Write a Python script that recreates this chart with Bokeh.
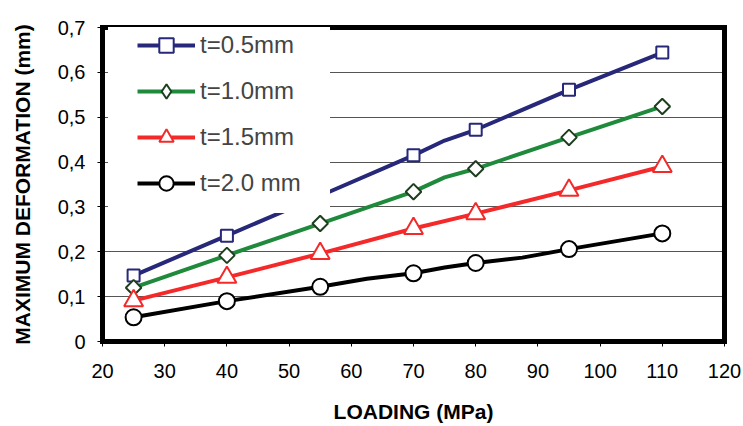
import math
from bokeh.plotting import figure
from bokeh.models import Range1d, FixedTicker, CustomJSTickFormatter, Legend, LegendItem, LinearAxis
from bokeh.embed import file_html
from bokeh.resources import INLINE

# Marker positions (MPa) and measured maximum deformation (mm)
loading = [25, 40, 55, 70, 80, 95, 110]
t05 = [0.147, 0.236, 0.325, 0.415, 0.472, 0.561, 0.644]
t10 = [0.120, 0.192, 0.263, 0.334, 0.385, 0.455, 0.524]
t15 = [0.091, 0.143, 0.196, 0.252, 0.285, 0.337, 0.390]
t20 = [0.054, 0.090, 0.122, 0.152, 0.175, 0.206, 0.241]

# Line paths (contain a few extra unmarked points)
line_x_05 = [25, 40, 55, 70, 75, 80, 95, 110]
line_05 = [0.147, 0.236, 0.325, 0.415, 0.448, 0.472, 0.561, 0.644]
line_x_10 = [25, 40, 55, 70, 75, 80, 95, 110]
line_10 = [0.120, 0.192, 0.263, 0.334, 0.366, 0.385, 0.455, 0.524]
line_x_15 = [25, 40, 55, 70, 80, 95, 110]
line_15 = [0.091, 0.143, 0.196, 0.252, 0.285, 0.337, 0.390]
line_x_20 = [25, 40, 55, 62.5, 70, 75, 80, 87.5, 95, 110]
line_20 = [0.054, 0.090, 0.122, 0.140, 0.152, 0.165, 0.175, 0.187, 0.206, 0.241]

labels = ["t=0.5mm", "t=1.0mm", "t=1.5mm", "t=2.0 mm"]
x_ticks = [20, 30, 40, 50, 60, 70, 80, 90, 100, 110, 120]
y_ticks = [0, 0.1, 0.2, 0.3, 0.4, 0.5, 0.6, 0.7]

NAVY = "#27287A"
GREEN = "#1F8A3C"
DKGREEN = "#1E3F1E"
RED = "#F42A2A"

FONT = "Liberation Sans"

p = figure(width=743, height=426, output_backend="svg", toolbar_location=None,
           x_range=Range1d(20, 120), y_range=Range1d(0, 0.7),
           min_border_left=102, min_border_right=19, min_border_top=27, min_border_bottom=85)

p.background_fill_color = "white"
p.border_fill_color = "white"
p.outline_line_color = None

p.xgrid.grid_line_color = None
p.ygrid.grid_line_color = "#555555"
p.ygrid.grid_line_width = 1

p.xaxis.ticker = FixedTicker(ticks=x_ticks)
p.yaxis.ticker = FixedTicker(ticks=y_ticks)
p.yaxis.formatter = CustomJSTickFormatter(code="""
    if (Math.abs(tick) < 1e-9) { return "0"; }
    return tick.toFixed(1).replace(".", ",");
""")

for ax in (p.xaxis[0], p.yaxis[0]):
    ax.axis_line_color = "black"
    ax.axis_line_width = 5
    ax.axis_line_cap = "square"
    ax.major_tick_out = 5
    ax.major_tick_in = 0
    ax.major_tick_line_color = "black"
    ax.minor_tick_line_color = None
    ax.major_label_text_font = FONT
    ax.major_label_text_font_size = "20px"
    ax.major_label_text_color = "black"
    ax.axis_label_text_font = FONT
    ax.axis_label_text_font_size = "21px"
    ax.axis_label_text_font_style = "bold"
    ax.axis_label_text_color = "black"

p.xaxis.axis_label = "LOADING (MPa)"
p.yaxis.axis_label = "MAXIMUM DEFORMATION (mm)"
p.xaxis.major_label_standoff = 17
p.xaxis.axis_label_standoff = 19
p.yaxis.major_label_standoff = 12
p.yaxis.axis_label_standoff = 21

# thick frame on top and right (as label-less axes so the legend box can cover them)
for side in ("above", "right"):
    frame_axis = LinearAxis(ticker=FixedTicker(ticks=[]), axis_line_color="black", axis_line_width=5,
                            axis_line_cap="square", major_tick_line_color=None,
                            minor_tick_line_color=None, major_label_text_font_size="0px")
    p.add_layout(frame_axis, side)

l1 = p.line(line_x_05, line_05, line_width=4, line_color=NAVY, line_join="round")
s1 = p.scatter(loading, t05, marker="square", size=12, fill_color="white", line_color=NAVY, line_width=2)
l2 = p.line(line_x_10, line_10, line_width=4, line_color=GREEN, line_join="round")
s2 = p.scatter(loading, t10, marker="square", angle=math.pi / 4, size=11, fill_color="white",
               line_color=DKGREEN, line_width=2)
l3 = p.line(line_x_15, line_15, line_width=4, line_color=RED, line_join="round")
s3 = p.scatter(loading, t15, marker="triangle", size=19, fill_color="white", line_color=RED, line_width=2)
l4 = p.line(line_x_20, line_20, line_width=4, line_color="black", line_join="round")
s4 = p.scatter(loading, t20, marker="circle", size=16, fill_color="white", line_color="black", line_width=2)

# legend-only diamond sample (legend draws markers unrotated)
d_key = p.scatter([float("nan")], [float("nan")], marker="diamond", fill_color="white",
                  line_color=DKGREEN, line_width=2)
# invisible renderer for the legend's white backing panel
blank = p.line([float("nan")], [float("nan")], line_alpha=0)

# white backing box of the legend (covers grid, frame top and part of the t=0.5mm line)
backing = Legend(items=[LegendItem(label=" ", renderers=[blank])], location=(6, 128),
                 glyph_width=222, glyph_height=199, label_height=199, label_width=0,
                 label_standoff=0, padding=0, spacing=0, label_text_font_size="1px",
                 background_fill_color="white", background_fill_alpha=1.0, border_line_color=None)
p.add_layout(backing)

legend = Legend(items=[
    LegendItem(label=labels[0], renderers=[l1, s1]),
    LegendItem(label=labels[1], renderers=[l2, d_key]),
    LegendItem(label=labels[2], renderers=[l3, s3]),
    LegendItem(label=labels[3], renderers=[l4, s4]),
], location=(35, 140), glyph_width=58, glyph_height=36, label_height=36, label_width=130,
    spacing=10, padding=0, label_standoff=5, label_text_font=FONT, label_text_font_size="24px",
    background_fill_color="white", background_fill_alpha=1.0, border_line_color=None)
p.add_layout(legend)

open("out.html", "w").write(file_html(p, INLINE))
